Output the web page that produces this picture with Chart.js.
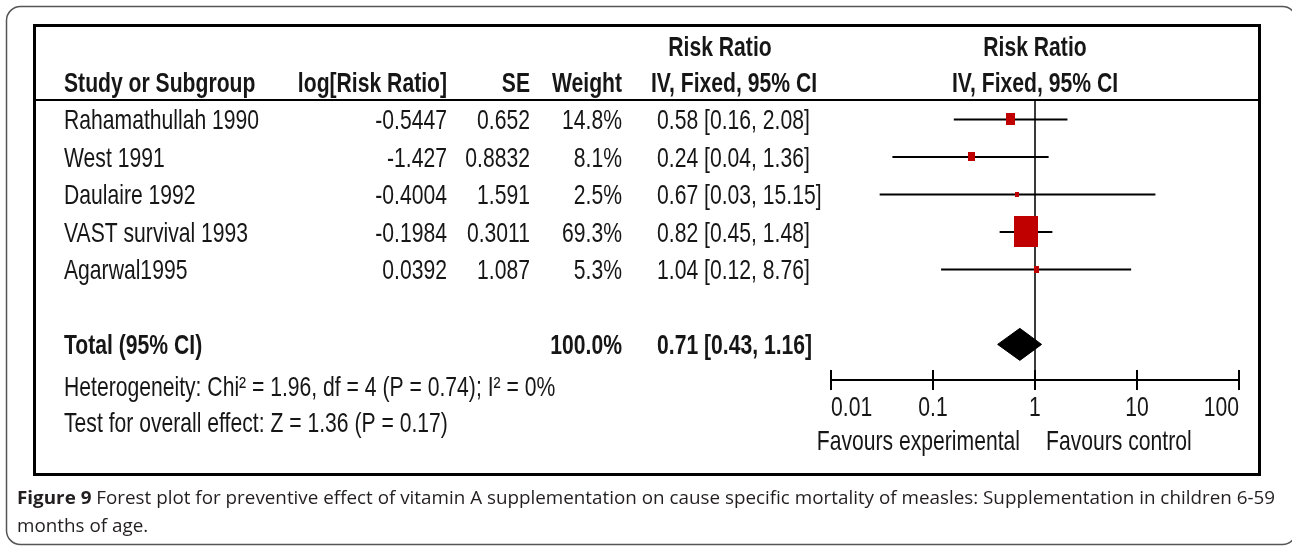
<!DOCTYPE html>
<html><head><meta charset="utf-8">
<script src="https://cdn.jsdelivr.net/npm/chart.js@4.4.1/dist/chart.umd.min.js"></script>
<style>html,body{margin:0;padding:0;background:#fff;overflow:hidden}canvas{display:block}</style>
</head><body>
<canvas id="c" width="1292" height="547"></canvas>
<script>
// ---------------- DATA ----------------
const studies = ['Rahamathullah 1990', 'West 1991', 'Daulaire 1992', 'VAST survival 1993', 'Agarwal1995'];
const logRR = [-0.5447, -1.427, -0.4004, -0.1984, 0.0392];
const se = [0.652, 0.8832, 1.591, 0.3011, 1.087];
const weights = [14.8, 8.1, 2.5, 69.3, 5.3];
const rr = [0.58, 0.24, 0.67, 0.82, 1.04];
const ciLow = [0.16, 0.04, 0.03, 0.45, 0.12];
const ciHigh = [2.08, 1.36, 15.15, 1.48, 8.76];
const totalLabel = 'Total (95% CI)';
const totalWeight = 100.0;
const totalRR = 0.71;
const totalLow = 0.43;
const totalHigh = 1.16;
const heterogeneityText = 'Heterogeneity: Chi\u00b2 = 1.96, df = 4 (P = 0.74); I\u00b2 = 0%';
const overallText = 'Test for overall effect: Z = 1.36 (P = 0.17)';
const tickValues = [0.01, 0.1, 1, 10, 100];
const tickLabels = ['0.01', '0.1', '1', '10', '100'];
const favourLeft = 'Favours experimental';
const favourRight = 'Favours control';
const colHeaders = ['Study or Subgroup', 'log[Risk Ratio]', 'SE', 'Weight'];
const effectHeader1 = 'Risk Ratio';
const effectHeader2 = 'IV, Fixed, 95% CI';
const captionBold = 'Figure 9';
const captionLine1 = ' Forest plot for preventive effect of vitamin A supplementation on cause specific mortality of measles: Supplementation in children 6-59';
const captionLine2 = 'months of age.';

// ---------------- LAYOUT / STYLE ----------------
const FONT = '"Liberation Sans", Arial, Helvetica, sans-serif';
const FS = 28, SX = 0.755;
const TXT = '#161616';
const rowPos = studies.map((_, i) => i + 1);
const totalPos = 7;
const DIAMOND_HALF = 0.427;

function txt(ctx, s, x, y, align, bold) {
  ctx.save();
  ctx.font = (bold ? 'bold ' : '') + FS + 'px ' + FONT;
  ctx.fillStyle = TXT;
  ctx.textAlign = align;
  ctx.textBaseline = 'alphabetic';
  ctx.translate(x, y);
  ctx.scale(SX, 1);
  ctx.fillText(s, 0, 0);
  ctx.restore();
}

function boxImage(w) {
  const h = Math.max(5, Math.round(2.44 * Math.pow(w, 0.6)));
  const wd = Math.max(4, Math.round(h * 0.76));
  const c = document.createElement('canvas');
  c.width = wd; c.height = h;
  const g = c.getContext('2d');
  g.fillStyle = '#c00000';
  g.fillRect(0, 0, wd, h);
  return c;
}

const datasets = [];
// study boxes (on top)
datasets.push({
  data: rr.map((v, i) => ({x: v, y: rowPos[i]})),
  pointStyle: weights.map(boxImage),
  pointRadius: 5,
  showLine: false,
  order: 0
});
// total diamond
datasets.push({
  data: [
    {x: totalLow, y: totalPos},
    {x: totalRR, y: totalPos - DIAMOND_HALF},
    {x: totalHigh, y: totalPos},
    {x: totalRR, y: totalPos + DIAMOND_HALF},
    {x: totalLow, y: totalPos}
  ],
  showLine: true,
  fill: 'shape',
  backgroundColor: '#000',
  borderColor: '#000',
  borderWidth: 1,
  pointRadius: 0,
  tension: 0,
  order: 1
});
// confidence intervals
rr.forEach((v, i) => {
  datasets.push({
    data: [{x: ciLow[i], y: rowPos[i]}, {x: ciHigh[i], y: rowPos[i]}],
    showLine: true,
    borderColor: '#000',
    borderWidth: 2,
    pointRadius: 0,
    order: 2
  });
});
// line of no effect
datasets.push({
  data: [{x: 1, y: 0.51}, {x: 1, y: 7.95}],
  showLine: true,
  borderColor: '#3a3a3a',
  borderWidth: 2,
  pointRadius: 0,
  order: 3
});

const decor = {
  id: 'decor',
  beforeDraw(chart) {
    const ctx = chart.ctx;
    ctx.save();
    ctx.fillStyle = '#fff';
    ctx.fillRect(0, 0, chart.width, chart.height);
    // outer rounded frame
    ctx.strokeStyle = '#555';
    ctx.lineWidth = 1.5;
    ctx.beginPath();
    ctx.roundRect(6.5, 6.5, 1290, 538, 14);
    ctx.stroke();
    ctx.restore();
  },
  afterDraw(chart) {
    const ctx = chart.ctx;
    const xs = chart.scales.x, ys = chart.scales.y;
    ctx.save();
    // inner box
    ctx.strokeStyle = '#000';
    ctx.lineWidth = 3;
    ctx.strokeRect(34.5, 25.5, 1225, 449);
    // header rule
    ctx.lineWidth = 2;
    ctx.beginPath();
    ctx.moveTo(34, 100); ctx.lineTo(1260, 100);
    ctx.stroke();
    // upward tick halves
    const yb = chart.chartArea.bottom;
    tickValues.forEach(v => {
      const px = Math.round(xs.getPixelForValue(v));
      ctx.beginPath();
      ctx.moveTo(px, yb - 10); ctx.lineTo(px, yb);
      ctx.stroke();
    });
    ctx.restore();

    // headers
    txt(ctx, effectHeader1, 720, 56, 'center', true);
    txt(ctx, effectHeader1, 1035, 56, 'center', true);
    txt(ctx, colHeaders[0], 64, 92, 'left', true);
    txt(ctx, colHeaders[1], 447, 92, 'right', true);
    txt(ctx, colHeaders[2], 530, 92, 'right', true);
    txt(ctx, colHeaders[3], 622, 92, 'right', true);
    txt(ctx, effectHeader2, 734, 92, 'center', true);
    txt(ctx, effectHeader2, 1035, 92, 'center', true);

    // study rows
    studies.forEach((s, i) => {
      const y = ys.getPixelForValue(rowPos[i]) + 10;
      txt(ctx, s, 64, y, 'left', false);
      txt(ctx, String(logRR[i]), 447, y, 'right', false);
      txt(ctx, String(se[i]), 530, y, 'right', false);
      txt(ctx, weights[i].toFixed(1) + '%', 622, y, 'right', false);
      txt(ctx, rr[i].toFixed(2) + ' [' + ciLow[i].toFixed(2) + ', ' + ciHigh[i].toFixed(2) + ']', 657, y, 'left', false);
    });
    // total
    const yt = ys.getPixelForValue(totalPos) + 10;
    txt(ctx, totalLabel, 64, yt, 'left', true);
    txt(ctx, totalWeight.toFixed(1) + '%', 622, yt, 'right', true);
    txt(ctx, totalRR.toFixed(2) + ' [' + totalLow.toFixed(2) + ', ' + totalHigh.toFixed(2) + ']', 657, yt, 'left', true);
    txt(ctx, heterogeneityText, 64, yt + 42, 'left', false);
    txt(ctx, overallText, 64, yt + 78, 'left', false);

    // axis labels (end labels kept inside the axis span)
    const last = tickValues.length - 1;
    tickValues.forEach((v, i) => {
      const al = i === 0 ? 'left' : (i === last ? 'right' : 'center');
      txt(ctx, tickLabels[i], xs.getPixelForValue(v), 416, al, false);
    });
    txt(ctx, favourLeft, 1020, 450, 'right', false);
    txt(ctx, favourRight, 1046, 450, 'left', false);

    // caption
    ctx.save();
    const cf = '"Open Sans", "Noto Sans", sans-serif';
    ctx.font = 'bold 18px ' + cf;
    const wb = ctx.measureText(captionBold).width;
    ctx.font = '18px ' + cf;
    const wr = ctx.measureText(captionLine1).width;
    const sx = (1275 - 17) / (wb + wr);
    ctx.fillStyle = '#231f20';
    ctx.textBaseline = 'alphabetic';
    ctx.textAlign = 'left';
    ctx.translate(17, 504);
    ctx.scale(sx, 1);
    ctx.font = 'bold 18px ' + cf;
    ctx.fillText(captionBold, 0, 0);
    ctx.font = '18px ' + cf;
    ctx.fillText(captionLine1, wb, 0);
    ctx.fillText(captionLine2, 0, 28);
    ctx.restore();
  }
};

new Chart(document.getElementById('c'), {
  type: 'scatter',
  data: {datasets},
  options: {
    responsive: false,
    animation: false,
    devicePixelRatio: 1,
    layout: {padding: {left: 831, right: 53, top: 101, bottom: 0}},
    plugins: {legend: {display: false}, tooltip: {enabled: false}},
    scales: {
      x: {
        type: 'logarithmic',
        position: 'bottom',
        min: 0.01,
        max: 100,
        afterBuildTicks: s => { s.ticks = tickValues.map(v => ({value: v})); },
        afterFit: s => { s.height = 167; },
        ticks: {display: false},
        grid: {display: true, drawOnChartArea: false, drawTicks: true, tickLength: 10, color: '#000', lineWidth: 2},
        border: {display: true, color: '#000', width: 2}
      },
      y: {
        type: 'linear',
        reverse: true,
        min: 0.51,
        max: 7.95,
        display: false
      }
    }
  },
  plugins: [decor]
});
</script>
</body></html>
